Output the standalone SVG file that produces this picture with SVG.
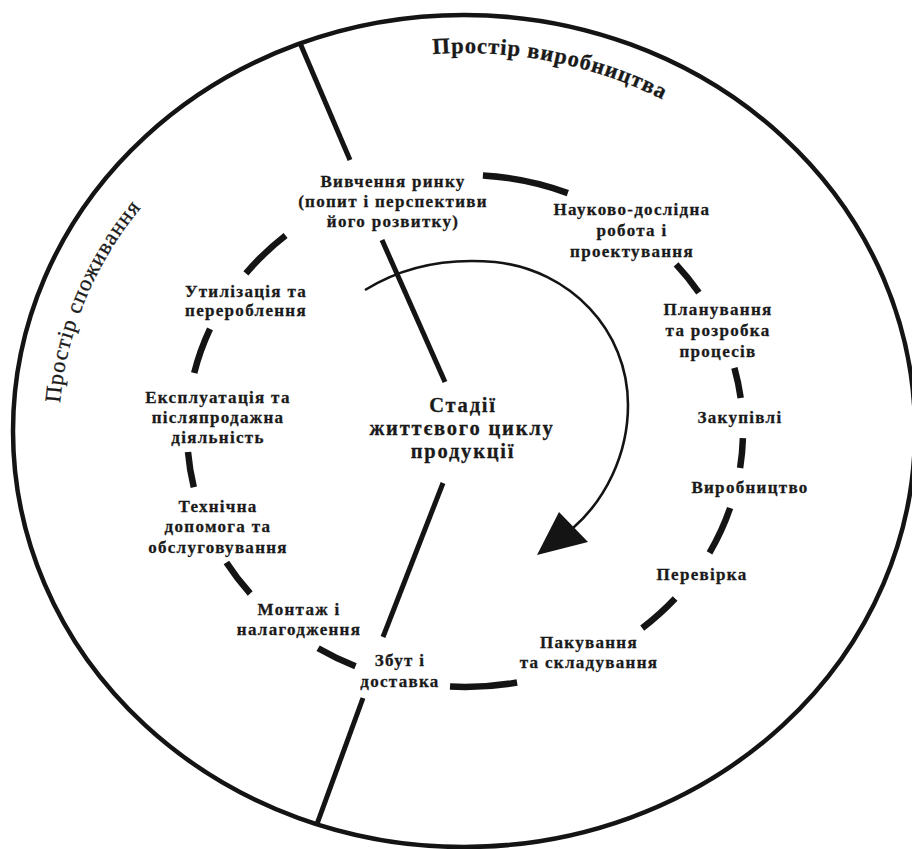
<svg xmlns="http://www.w3.org/2000/svg" width="912" height="849" viewBox="0 0 912 849">
  <style>
    .ink{fill:none;stroke:#141414;stroke-linecap:butt}
    .outer{stroke-width:4.5}
    .divider{stroke-width:5}
    .dash{stroke-width:6.5}
    .flow{stroke-width:2.6}
    .lbl{font-family:"Liberation Serif","Times New Roman",serif;font-weight:bold;font-size:17px;letter-spacing:1.3px;fill:#1a1a1a;stroke:#1a1a1a;stroke-width:0.3;text-anchor:middle}
    .title{font-size:20.5px;letter-spacing:1.8px}
    .zone{font-family:"Liberation Serif","Times New Roman",serif;font-size:22.5px;fill:#1a1a1a;stroke:#1a1a1a;stroke-width:0.3}
  </style>
  <defs>
    <!-- baselines for the two curved zone captions -->
    <path id="topArc" d="M 433 54.1 A 413 378 0 0 1 877 431"/>
    <path id="leftArc" d="M 60.2 403 A 405 370 0 0 1 464 61"/>
  </defs>

  <rect width="912" height="849" fill="#ffffff"/>

  <!-- outer boundary -->
  <g id="frame">
    <ellipse class="ink outer" cx="464" cy="431" rx="451" ry="416"/>
  </g>

  <g id="connectors">
    <!-- divider between the two spaces (upper and lower parts meet behind the centre title) -->
    <line class="ink divider" x1="300" y1="43" x2="350" y2="160"/>
    <line class="ink divider" x1="382" y1="240" x2="445" y2="382"/>
    <line class="ink divider" x1="443" y1="483" x2="383" y2="637"/>
    <line class="ink divider" x1="363" y1="698" x2="317" y2="824"/>

    <!-- dashed ring of life-cycle stages -->
    <path class="ink dash" d="M482.9 175.5 A278 256 0 0 1 567.8 193.1"/>
    <path class="ink dash" d="M676.1 264.4 A278 256 0 0 1 698.9 292.7"/>
    <path class="ink dash" d="M734.4 367.8 A278 256 0 0 1 740.7 398.0"/>
    <path class="ink dash" d="M742.9 438.1 A278 256 0 0 1 740.1 468.0"/>
    <path class="ink dash" d="M730.1 508.0 A278 256 0 0 1 709.5 552.8"/>
    <path class="ink dash" d="M675.1 598.6 A278 256 0 0 1 642.2 628.2"/>
    <path class="ink dash" d="M517.1 682.5 A278 256 0 0 1 450.0 686.6"/>
    <path class="ink dash" d="M355.5 666.3 A278 256 0 0 1 318.1 648.3"/>
    <path class="ink dash" d="M250.2 593.5 A278 256 0 0 1 226.4 562.5"/>
    <path class="ink dash" d="M193.8 487.3 A278 256 0 0 1 188.0 452.0"/>
    <path class="ink dash" d="M194.2 373.0 A278 256 0 0 1 210.0 328.9"/>
    <path class="ink dash" d="M245.9 273.4 A278 256 0 0 1 285.6 235.5"/>

    <!-- clockwise flow arrow -->
    <path class="ink flow" d="M365 290 C405 265 450 258 495 262 C570 270 628 330 628 405 C628 455 605 500 573 528"/>
    <polygon points="537,555 559,512 588,542" fill="#141414"/>
  </g>

  <!-- zone captions -->
  <g id="zone-production">
    <text class="zone" font-weight="bold" letter-spacing="0.9"><textPath href="#topArc">Простір виробництва</textPath></text>
  </g>
  <g id="zone-consumption">
    <text class="zone" letter-spacing="1.0"><textPath href="#leftArc">Простір споживання</textPath></text>
  </g>

  <!-- centre title -->
  <g id="title">
    <text class="lbl title" x="463" y="412">Стадії</text>
    <text class="lbl title" x="462" y="435">життєвого циклу</text>
    <text class="lbl title" x="463" y="458">продукції</text>
  </g>

  <!-- stages -->
  <g id="market-research">
    <text class="lbl" x="393" y="187">Вивчення ринку</text>
    <text class="lbl" x="393" y="207">(попит і перспективи</text>
    <text class="lbl" x="393" y="227">його розвитку)</text>
  </g>
  <g id="rnd-design">
    <text class="lbl" x="632" y="215">Науково-дослідна</text>
    <text class="lbl" x="632" y="236">робота і</text>
    <text class="lbl" x="632" y="257">проектування</text>
  </g>
  <g id="process-planning">
    <text class="lbl" x="718" y="315">Планування</text>
    <text class="lbl" x="718" y="336">та розробка</text>
    <text class="lbl" x="718" y="357">процесів</text>
  </g>
  <g id="purchasing">
    <text class="lbl" x="740" y="423">Закупівлі</text>
  </g>
  <g id="production">
    <text class="lbl" x="750" y="493">Виробництво</text>
  </g>
  <g id="inspection">
    <text class="lbl" x="702" y="580">Перевірка</text>
  </g>
  <g id="packaging-storage">
    <text class="lbl" x="589" y="648">Пакування</text>
    <text class="lbl" x="589" y="668">та складування</text>
  </g>
  <g id="sales-delivery">
    <text class="lbl" x="400" y="666">Збут і</text>
    <text class="lbl" x="400" y="687">доставка</text>
  </g>
  <g id="installation">
    <text class="lbl" x="299" y="615">Монтаж і</text>
    <text class="lbl" x="299" y="635">налагодження</text>
  </g>
  <g id="technical-support">
    <text class="lbl" x="218" y="512">Технічна</text>
    <text class="lbl" x="218" y="532">допомога та</text>
    <text class="lbl" x="218" y="553">обслуговування</text>
  </g>
  <g id="operation-aftersales">
    <text class="lbl" x="218" y="403">Експлуатація та</text>
    <text class="lbl" x="218" y="423">післяпродажна</text>
    <text class="lbl" x="218" y="443">діяльність</text>
  </g>
  <g id="disposal-recycling">
    <text class="lbl" x="246" y="297">Утилізація та</text>
    <text class="lbl" x="246" y="316">перероблення</text>
  </g>
</svg>
